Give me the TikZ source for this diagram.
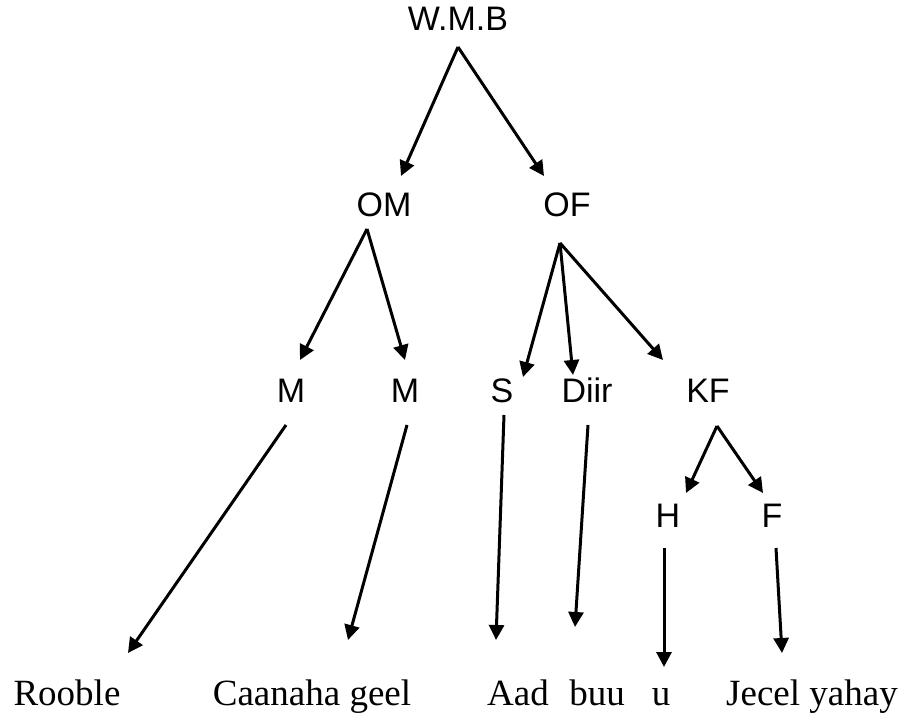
\documentclass[tikz,border=0pt]{standalone}
\usepackage{fontspec}
\setmainfont{Liberation Serif}
\newfontfamily\arialfont{Liberation Sans}
\usepackage{tikz}
\usetikzlibrary{calc,arrows.meta}

\begin{document}
\begin{tikzpicture}[x=1pt, y=-1pt,
		lbl/.style={inner sep=0, anchor=base, font=\arialfont\fontsize{34}{40}\selectfont},
		word/.style={inner sep=0, anchor=base, font=\fontsize{37}{44}\selectfont},
		arr/.style={line width=3pt, -{Triangle[length=15pt,width=15pt]}}]
			%%%%% START %%%%%
			
			\useasboundingbox (0, 0) rectangle (906, 719);
			
			% upper labels
			\node[lbl] (wmb) at (458, 31) {W.M.B};
			\node[lbl] (om) at (384, 217) {OM};
			\node[lbl] (of) at (567, 217) {OF};
			\node[lbl] (m1) at (291, 403) {M};
			\node[lbl] (m2) at (405, 403) {M};
			\node[lbl] (s) at (502, 403) {S};
			\node[lbl] (diir) at (587, 403) {Diir};
			\node[lbl] (kf) at (708, 403) {KF};
			\node[lbl] (h) at (668, 527) {H};
			\node[lbl] (f) at (772, 527) {F};
			
			% bottom words
			\node[word] (rooble) at (67, 705) {Rooble};
			\node[word] (caanaha) at (312, 705) {Caanaha geel};
			\node[word] (aad) at (518, 705) {Aad};
			\node[word] (buu) at (597, 705) {buu};
			\node[word] (u) at (661, 705) {u};
			\node[word] (jecel) at (812, 705) {Jecel yahay};
			
			% arrows
			\draw[arr] ($(wmb.base)+(0, 16)$) -- ($(om.base)+(17, -41)$);
			\draw[arr] ($(wmb.base)+(0, 16)$) -- ($(of.base)+(-23, -41)$);
			
			\draw[arr] ($(om.base)+(-17, 12)$) -- ($(m1.base)+(9, -43)$);
			\draw[arr] ($(om.base)+(-17, 12)$) -- ($(m2.base)+(0, -43)$);
			
			\draw[arr] ($(of.base)+(-7, 26)$) -- ($(s.base)+(21, -26)$);
			\draw[arr] ($(of.base)+(-7, 26)$) -- ($(diir.base)+(-14, -28)$);
			\draw[arr] ($(of.base)+(-7, 26)$) -- ($(kf.base)+(-45, -43)$);
			
			\draw[arr] ($(m1.base)+(-5, 22)$) -- ($(rooble.base)+(61, -52)$);
			\draw[arr] ($(m2.base)+(2, 22)$) -- ($(caanaha.base)+(36, -65)$);
			\draw[arr] ($(s.base)+(2, 12)$) -- ($(aad.base)+(-22, -65)$);
			\draw[arr] ($(diir.base)+(1, 22)$) -- ($(buu.base)+(-22, -78)$);
			
			\draw[arr] ($(kf.base)+(9, 23)$) -- ($(h.base)+(18, -34)$);
			\draw[arr] ($(kf.base)+(9, 23)$) -- ($(f.base)+(-9, -34)$);
			
			\draw[arr] ($(h.base)+(-4, 21)$) -- ($(u.base)+(3, -38)$);
			\draw[arr] ($(f.base)+(4, 21)$) -- ($(jecel.base)+(-30, -52)$);
			
			%%%%% END %%%%%
		\end{tikzpicture}
\end{document}
